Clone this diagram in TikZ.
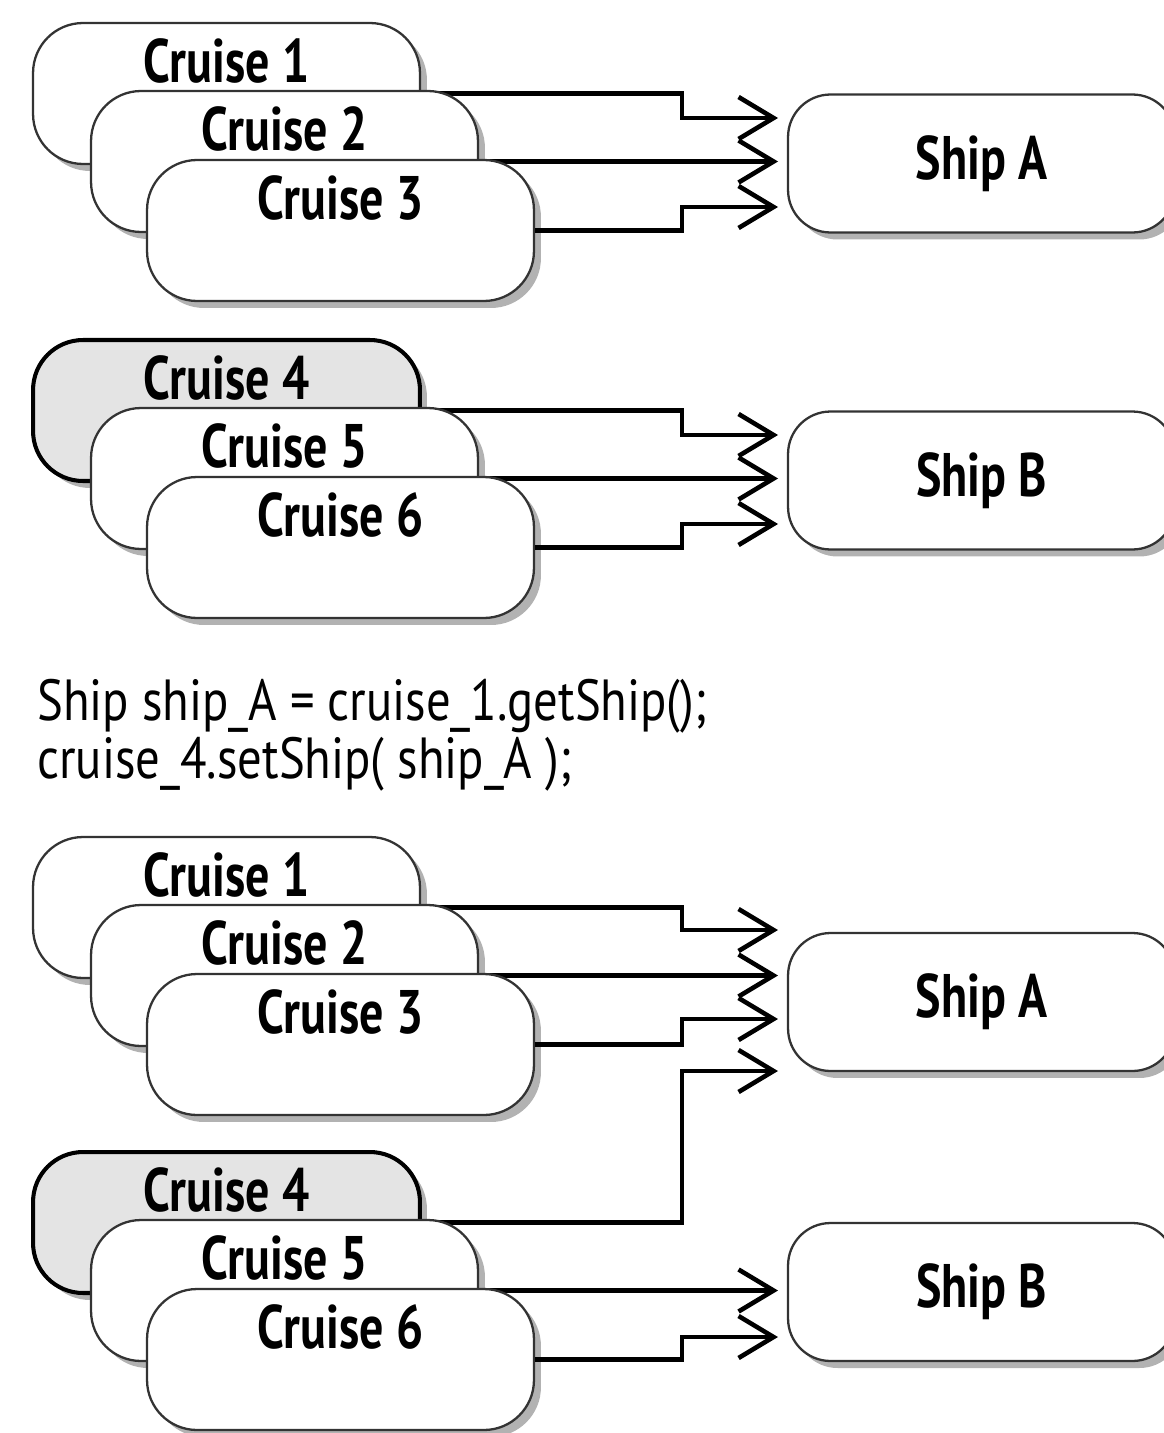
\documentclass[tikz,border=0pt]{standalone}
\usepackage{fontspec}
\setmainfont{PT Sans}
\newfontfamily\labelfont{PT Sans}[FakeStretch=0.78]
\newfontfamily\codefont{PT Sans}[FakeStretch=0.84]
\usepackage{tikz}
\usetikzlibrary{arrows.meta,shadows,calc}
\definecolor{cruisegray}{HTML}{E4E4E4}
\definecolor{boxline}{HTML}{333333}
\tikzset{
  cruise/.style={draw=boxline,line width=1.3pt,fill=white,rounded corners=1cm,inner sep=0pt,
    minimum width=7.74cm,minimum height=2.82cm,text height=1.18cm,text depth=1.64cm,
    font=\labelfont\bfseries\fontsize{35}{35}\selectfont,
    drop shadow={shadow xshift=0.14cm,shadow yshift=-0.14cm,fill=black,opacity=0.3}},
  cruisesel/.style={cruise,fill=cruisegray,draw=black,line width=2.3pt},
  ship/.style={draw=boxline,line width=1.3pt,fill=white,rounded corners=0.85cm,inner sep=0pt,
    minimum width=7.74cm,minimum height=2.76cm,
    font=\labelfont\bfseries\fontsize{35}{35}\selectfont,
    drop shadow={shadow xshift=0.14cm,shadow yshift=-0.14cm,fill=black,opacity=0.3}},
  link/.style={draw=black,line width=2.8pt,sharp corners,line join=miter,
    -{Straight Barb[length=0.7cm,width=0.84cm,line width=2.6pt]}},
  codetext/.style={font=\codefont\fontsize{33}{33}\selectfont,inner sep=0pt,anchor=base west}
}
\begin{document}
\begin{tikzpicture}[x=0.02cm,y=-0.02cm]
\fill[white] (0,0) rectangle (1163,1433);
\useasboundingbox (0,0) rectangle (1163,1433);
% before: cruises 1-3 on ship A
\node[ship] (sA) at (981.5,163.5) {Ship A};
\coordinate (a1) at (778,118);
\coordinate (a2) at (778,161.5);
\coordinate (a3) at (778,207);
\node[cruise] (c1) at (226.5,93.5) {Cruise 1};
\draw[link] (c1.east) -| ($(a1)+(-96,0)$) -- (a1);
\node[cruise] (c2) at (284.5,161.5) {Cruise 2};
\draw[link] (c2.east) -- (a2);
\node[cruise] (c3) at (340.5,230.5) {Cruise 3};
\draw[link] (c3.east) -| ($(a3)+(-96,0)$) -- (a3);
% before: cruises 4-6 on ship B
\node[ship] (sB) at (981.5,480.5) {Ship B};
\coordinate (b1) at (778,435);
\coordinate (b2) at (778,478.5);
\coordinate (b3) at (778,524);
\node[cruisesel] (c4) at (226.5,410.5) {Cruise 4};
\draw[link] (c4.east) -| ($(b1)+(-96,0)$) -- (b1);
\node[cruise] (c5) at (284.5,478.5) {Cruise 5};
\draw[link] (c5.east) -- (b2);
\node[cruise] (c6) at (340.5,547.5) {Cruise 6};
\draw[link] (c6.east) -| ($(b3)+(-96,0)$) -- (b3);
% the two statements
\node[codetext] (code1) at (37,720) {Ship ship\_A = cruise\_1.getShip();};
\node[codetext] (code2) at (37,778) {cruise\_4.setShip( ship\_A );};
% after: cruise 4 moved to ship A
\node[ship] (sA2) at (981.5,1002) {Ship A};
\coordinate (p1) at (778,930);
\coordinate (p2) at (778,975.5);
\coordinate (p3) at (778,1019);
\coordinate (p4) at (778,1071);
\node[cruise] (d1) at (226.5,907.5) {Cruise 1};
\draw[link] (d1.east) -| ($(p1)+(-96,0)$) -- (p1);
\node[cruise] (d2) at (284.5,975.5) {Cruise 2};
\draw[link] (d2.east) -- (p2);
\node[cruise] (d3) at (340.5,1044.5) {Cruise 3};
\draw[link] (d3.east) -| ($(p3)+(-96,0)$) -- (p3);
\node[ship] (sB2) at (981.5,1292) {Ship B};
\coordinate (q1) at (778,1290.5);
\coordinate (q2) at (778,1337);
\node[cruisesel] (d4) at (226.5,1222.5) {Cruise 4};
\draw[link] (d4.east) -| ($(p4)+(-96,0)$) -- (p4);
\node[cruise] (d5) at (284.5,1290.5) {Cruise 5};
\draw[link] (d5.east) -- (q1);
\node[cruise] (d6) at (340.5,1359.5) {Cruise 6};
\draw[link] (d6.east) -| ($(q2)+(-96,0)$) -- (q2);
\end{tikzpicture}
\end{document}
